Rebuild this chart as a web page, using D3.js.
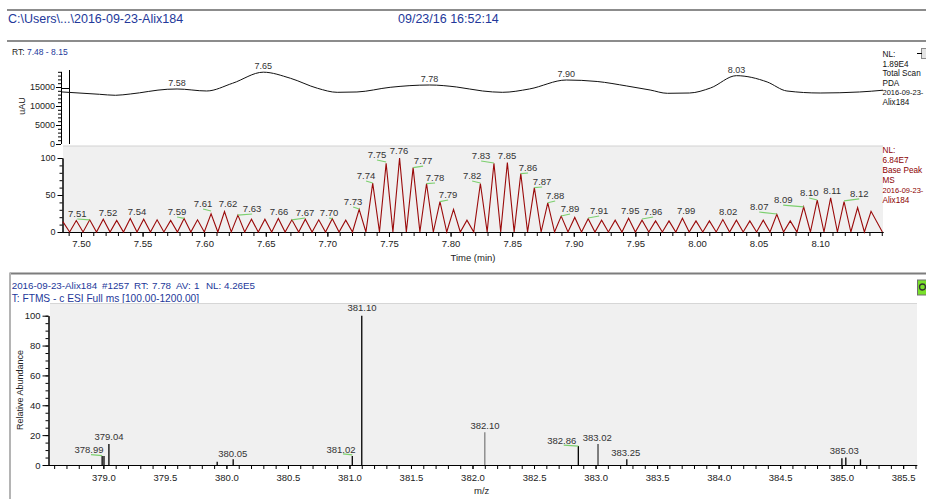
<!DOCTYPE html>
<html><head><meta charset="utf-8">
<script src="https://cdn.jsdelivr.net/npm/d3@7"></script>
<style>
body{margin:0;background:#fff;}
svg{display:block;font-family:"Liberation Sans",Arial,sans-serif;}
</style>
</head><body>
<svg id="c" width="926" height="499"></svg>
<script>
// ---------------- DATA ----------------
// Top trace: Total Scan PDA (uAU)
const topTimes  = [7.4846,7.515,7.528,7.540,7.570,7.578,7.602,7.623,7.648,7.670,7.692,7.708,7.724,7.751,7.783,7.805,7.826,7.842,7.864,7.894,7.919,7.943,7.962,7.976,7.994,8.011,8.032,8.057,8.073,8.100,8.132,8.151];
const topValues = [13700,13080,12820,13160,14400,14480,13950,15980,18900,17300,14660,13600,13690,14920,15530,15000,13950,13600,14480,16840,16450,15270,14210,13340,13420,14740,17980,16320,13950,13420,13690,14150];
const topLabelTexts  = ["7.58","7.65","7.78","7.90","8.03"];
const topLabelTimes  = [7.578,7.648,7.783,7.894,8.032];
const topLabelValues = [14480,18900,15530,16840,17980];

// Middle trace: Base Peak MS (relative %), alternating scans
const peakTimes = [7.4853,7.4962,7.5071,7.5181,7.5290,7.5400,7.5509,7.5618,7.5728,7.5837,7.5946,7.6056,7.6165,7.6274,7.6384,7.6493,7.6602,7.6712,7.6821,7.6930,7.7040,7.7149,7.7258,7.7368,7.7477,7.7586,7.7696,7.7805,7.7914,7.8024,7.8133,7.8242,7.8352,7.8461,7.8570,7.8680,7.8789,7.8898,7.9008,7.9117,7.9226,7.9336,7.9445,7.9554,7.9664,7.9773,7.9882,7.9992,8.0101,8.0210,8.0320,8.0429,8.0538,8.0648,8.0757,8.0866,8.0976,8.1085,8.1194,8.1304,8.1413];
const peakValues = [14,15.5,16.5,17.4,15.6,18.3,17.4,16.5,15.6,18.3,16.5,24.6,27.7,22.8,17.4,17.4,18.3,16.5,17.4,16.5,18,16,30.5,66,93,100,87,65.5,41,30.5,16,65.5,93,94,79,60,39.5,21.5,19.7,18,16,16,18.6,16,15,15,18.6,15,15,16.8,16,15,16,24,15,34,43,46,41,33,28];
const valleyTimes = [7.4908,7.5017,7.5126,7.5236,7.5345,7.5455,7.5564,7.5673,7.5783,7.5892,7.6001,7.6111,7.6220,7.6329,7.6439,7.6548,7.6657,7.6767,7.6876,7.6985,7.7095,7.7204,7.7313,7.7423,7.7532,7.7641,7.7751,7.7860,7.7969,7.8079,7.8188,7.8297,7.8407,7.8516,7.8625,7.8735,7.8844,7.8953,7.9063,7.9172,7.9281,7.9391,7.9500,7.9609,7.9719,7.9828,7.9937,8.0047,8.0156,8.0265,8.0375,8.0484,8.0593,8.0703,8.0812,8.0921,8.1031,8.1140,8.1249,8.1359,8.1505];
const valleyValues = [0,0,0,0,0,0,0,0,0,0,0,0,0,0,0,0,0,0,0,0,0,0,0,0,0,0,0,0,0,0,0,0,0,0,0,0,0,0,0,0,0,0,0,0,0,0,0,0,0,0,0,0,0,0,0,0,0,0,0,0,0];
const midLabelTexts = ["7.51","7.52","7.54","7.59","7.61","7.62","7.63","7.66","7.67","7.70","7.73","7.74","7.75","7.76","7.77","7.78","7.79","7.82","7.83","7.85","7.86","7.87","7.88","7.89","7.91","7.95","7.96","7.99","8.02","8.07","8.09","8.10","8.11","8.12"];
const midLabelTimes = [7.4970,7.5220,7.5455,7.5780,7.5991,7.6194,7.6389,7.6608,7.6819,7.7014,7.7209,7.7314,7.7403,7.7582,7.7777,7.7874,7.7980,7.8175,7.8248,7.8459,7.8629,7.8743,7.8849,7.8970,7.9206,7.9458,7.9644,7.9912,8.0253,8.0505,8.0700,8.0911,8.1098,8.1317];
const midLabelPct   = [24.3,25.7,27.0,27.0,37.8,37.8,31.1,27.0,25.7,25.7,40.5,75.7,104.1,109.5,95.9,73.0,50.0,75.7,102.7,102.7,86.5,67.6,48.6,31.1,28.4,28.4,27.0,28.4,27.0,33.8,43.2,52.7,55.4,51.4];
const midLabelPeak  = [2,-1,-1,9,11,-1,13,-1,17,20,22,23,24,-1,26,27,28,31,32,-1,34,35,36,37,39,-1,43,-1,-1,53,55,56,-1,58];

// Bottom: mass spectrum
const msMz  = [378.99,379.005,379.045,379.925,380.055,381.023,381.10,382.10,382.86,383.02,383.254,385.002,385.034,385.153];
const msInt = [6,6,14,2.2,3.8,6,100,21.9,12.7,14,3.8,4.5,5.1,3.8];
const msColor = ["#000","#000","#000","#000","#000","#000","#000","#808080","#000","#404040","#000","#000","#000","#000"];
const msLabelTexts = ["378.99","379.04","380.05","381.02","381.10","382.10","382.86","383.02","383.25","385.03"];
const msLabelMz    = [378.883,379.046,380.051,380.931,381.102,382.102,382.725,383.014,383.245,385.022];
const msLabelPct   = [10.0,18.8,7.8,10.5,105.2,26.1,16.3,18.6,8.2,9.6];
const msLabelStick = [0,-1,-1,5,-1,-1,8,-1,-1,-1];

// Axis ticks
const timeTickValues = [7.50,7.55,7.60,7.65,7.70,7.75,7.80,7.85,7.90,7.95,8.00,8.05,8.10];
const timeTickLabels = ["7.50","7.55","7.60","7.65","7.70","7.75","7.80","7.85","7.90","7.95","8.00","8.05","8.10"];
const msTickValues = [379.0,379.5,380.0,380.5,381.0,381.5,382.0,382.5,383.0,383.5,384.0,384.5,385.0,385.5];
const msTickLabels = ["379.0","379.5","380.0","380.5","381.0","381.5","382.0","382.5","383.0","383.5","384.0","384.5","385.0","385.5"];
const topYTicks = [0,5000,10000,15000];
const midYTicks = [0,50,100];
const msYTicks = [0,20,40,60,80,100];

// ---------------- DRAW ----------------
const svg = d3.select("#c");
const F = '"Liberation Sans",Arial,sans-serif';
const blue = "#23389a";
const txt = (x,y,s,opt={}) => svg.append("text").attr("x",x).attr("y",y).text(s)
   .attr("font-size",opt.size||9).attr("fill",opt.fill||"#222")
   .attr("text-anchor",opt.anchor||"start").attr("dy",opt.dy||"0.35em");

// header separators
svg.append("rect").attr("x",7).attr("y",9).attr("width",919).attr("height",2).attr("fill","#8c8c8c");
svg.append("rect").attr("x",7).attr("y",40).attr("width",919).attr("height",2).attr("fill","#8c8c8c");
txt(8,18.5,"C:\\Users\\...\\2016-09-23-Alix184",{size:12.5,fill:blue});
txt(398,18.5,"09/23/16 16:52:14",{size:12.5,fill:blue});
const rt = svg.append("text").attr("x",12).attr("y",52.5).attr("dy","0.35em").attr("font-size",8.5);
rt.append("tspan").text("RT: ").attr("fill","#222");
rt.append("tspan").text("7.48 - 8.15").attr("fill",blue);

// scales
const xT = d3.scaleLinear().domain([7.4846, 8.151]).range([62, 883]);
const yTop = d3.scaleLinear().domain([0, 15000]).range([144, 87]);
const yMid = d3.scaleLinear().domain([0, 100]).range([232, 158]);
const xMS = d3.scaleLinear().domain([378.55, 385.61]).range([48, 916.7]);
const yMS = d3.scaleLinear().domain([0, 100]).range([465, 315.7]);

function styleAxis(g, size){
  g.selectAll("text").attr("font-family",F).attr("font-size",size).attr("fill","#222");
  g.selectAll("line,path").attr("stroke","#000");
}

// ---- top panel ----
const gTopY = svg.append("g").attr("transform","translate(61,0)")
  .call(d3.axisLeft(yTop).tickValues(topYTicks).tickSize(5).tickPadding(1).tickFormat(d3.format("d")).tickSizeOuter(0));
styleAxis(gTopY,9);
gTopY.select(".domain").remove();
svg.append("line").attr("x1",61.5).attr("x2",61.5).attr("y1",yTop(19000)).attr("y2",144).attr("stroke","#000");
svg.append("g").attr("transform","translate(61,0)")
  .call(d3.axisLeft(yTop).tickValues(d3.range(0,19001,1000)).tickSize(3).tickFormat("")).call(g=>{g.select(".domain").remove();g.selectAll("line").attr("stroke","#000");});
svg.append("text").attr("transform","translate(22,106) rotate(-90)").attr("text-anchor","middle").attr("dy","0.35em")
  .attr("font-size",9).attr("fill","#222").text("uAU");
// crosshair
svg.append("line").attr("x1",69.5).attr("x2",69.5).attr("y1",70).attr("y2",144).attr("stroke","#000");
svg.append("line").attr("x1",61).attr("x2",70).attr("y1",88.5).attr("y2",88.5).attr("stroke","#000");

const topLine = d3.line().x((d,i)=>xT(topTimes[i])).y(d=>yTop(d)).curve(d3.curveMonotoneX);
svg.append("path").attr("d",topLine(topValues)).attr("fill","none").attr("stroke","#111").attr("stroke-width",1);
topLabelTexts.forEach((t,i)=>{
  svg.append("text").attr("x",xT(topLabelTimes[i])).attr("y",yTop(topLabelValues[i])-3)
    .attr("text-anchor","middle").attr("font-size",9).attr("fill","#333").text(t);
});
function sideNote(lines, y0, step, color){
  lines.forEach((s,i)=>{
    const long = s.length>=10 && /\d/.test(s);
    txt(882.5,y0+i*step,s,{size: long?7.5:8.2, fill:color});
  });
}
sideNote(["NL:","1.89E4","Total Scan","PDA","2016-09-23-","Alix184"],54,9.7,"#111");
// small icon top-right
svg.append("rect").attr("x",921.5).attr("y",48.5).attr("width",8).attr("height",10).attr("fill","#e4e4e4").attr("stroke","#8a8a8a");
svg.append("line").attr("x1",917).attr("x2",922).attr("y1",53.5).attr("y2",53.5).attr("stroke","#000");

// ---- middle panel ----
svg.append("rect").attr("x",63).attr("y",146).attr("width",820).attr("height",86).attr("fill","#f0f0f0");
svg.append("line").attr("x1",63).attr("x2",883).attr("y1",146).attr("y2",146).attr("stroke","#d2d2d2");
const gMidX = svg.append("g").attr("transform","translate(0,232)")
  .call(d3.axisBottom(xT).tickValues(timeTickValues).tickSize(5).tickPadding(3).tickSizeOuter(0).tickFormat((d,i)=>timeTickLabels[i]));
styleAxis(gMidX,9.5);
svg.append("g").attr("transform","translate(0,232)")
  .call(d3.axisBottom(xT).tickValues(d3.range(749,816).map(v=>v/100)).tickSize(4).tickFormat("").tickSizeOuter(0))
  .call(g=>{g.selectAll("line,path").attr("stroke","#000");});
const gMidY = svg.append("g").attr("transform","translate(62.5,0)")
  .call(d3.axisLeft(yMid).tickValues(midYTicks).tickSize(5).tickPadding(2).tickSizeOuter(0));
styleAxis(gMidY,9);
svg.append("g").attr("transform","translate(62.5,0)")
  .call(d3.axisLeft(yMid).tickValues(d3.range(0,101,10)).tickSize(3).tickFormat("").tickSizeOuter(0))
  .call(g=>{g.selectAll("line,path").attr("stroke","#000");});
txt(473,257.5,"Time (min)",{size:9.5,anchor:"middle"});

// zigzag trace from peaks and valleys
const scans = [];
peakTimes.forEach((t,i)=>{ scans.push([t,peakValues[i]]); scans.push([valleyTimes[i],valleyValues[i]]); });
const midLine = d3.line().x(d=>xT(d[0])).y(d=>yMid(d[1]));
svg.append("path").attr("d",midLine(scans)).attr("fill","none").attr("stroke","#9a0a0a").attr("stroke-width",1.1);
midLabelTexts.forEach((t,i)=>{
  const lx = xT(midLabelTimes[i]), ly = yMid(midLabelPct[i]);
  const p = midLabelPeak[i];
  if(p>=0){
    svg.append("line").attr("x1",lx).attr("y1",ly+5).attr("x2",xT(peakTimes[p])).attr("y2",Math.min(yMid(peakValues[p]),ly+7))
      .attr("stroke","#7ccf6e").attr("stroke-width",1.2);
  }
  txt(lx,ly,t,{size:9.5,anchor:"middle",fill:"#333"});
});
sideNote(["NL:","6.84E7","Base Peak","MS","2016-09-23-","Alix184"],150,10,"#8b0000");

// ---- bottom panel ----
svg.append("rect").attr("x",10).attr("y",272.5).attr("width",916).attr("height",2).attr("fill","#7d7d7d");
svg.append("rect").attr("x",9).attr("y",272.5).attr("width",2).attr("height",227).attr("fill","#b4b4b4");
const h1 = svg.append("text").attr("y",285.7).attr("dy","0.35em").attr("font-size",9.8).attr("fill",blue);
[["2016-09-23-Alix184",11.7],["#1257",102],["RT:",134],["7.78",152],["AV:",176],["1",194],["NL:",206],["4.26E5",224]]
  .forEach(([s,x])=>h1.append("tspan").attr("x",x).text(s));
txt(11.7,298.3,"T: FTMS - c ESI Full ms [100.00-1200.00]",{size:10.2,fill:blue});
// green icon
svg.append("rect").attr("x",917.5).attr("y",280).attr("width",9).attr("height",15).attr("fill","#79e02a").attr("stroke","#707070");
svg.append("circle").attr("cx",922.5).attr("cy",287).attr("r",3).attr("fill","none").attr("stroke","#333").attr("stroke-width",1.3);

svg.append("rect").attr("x",50).attr("y",303.5).attr("width",867).attr("height",161.5).attr("fill","#f0f0f0");
svg.append("line").attr("x1",50).attr("x2",917).attr("y1",303.5).attr("y2",303.5).attr("stroke","#d6d6d6");
const gMsX = svg.append("g").attr("transform","translate(0,465)")
  .call(d3.axisBottom(xMS).tickValues(msTickValues).tickSize(4).tickPadding(5).tickSizeOuter(0).tickFormat((d,i)=>msTickLabels[i]));
styleAxis(gMsX,9.5);
svg.append("g").attr("transform","translate(0,465)")
  .call(d3.axisBottom(xMS).tickValues(d3.range(3786,3857).map(v=>v/10)).tickSize(4).tickFormat("").tickSizeOuter(0))
  .call(g=>{g.selectAll("line,path").attr("stroke","#000");});
const gMsY = svg.append("g").attr("transform","translate(48.5,0)")
  .call(d3.axisLeft(yMS).tickValues(msYTicks).tickSize(6).tickPadding(2).tickSizeOuter(0));
styleAxis(gMsY,9.5);
svg.append("g").attr("transform","translate(48.5,0)")
  .call(d3.axisLeft(yMS).tickValues(d3.range(0,101,5)).tickSize(3).tickFormat("").tickSizeOuter(0))
  .call(g=>{g.selectAll("line,path").attr("stroke","#000");});
svg.append("text").attr("transform","translate(20,390) rotate(-90)").attr("text-anchor","middle").attr("dy","0.35em")
  .attr("font-size",9).attr("fill","#222").text("Relative Abundance");
txt(481.7,490.7,"m/z",{size:9.5,anchor:"middle"});

svg.selectAll(".stick").data(msMz).enter().append("line").attr("class","stick")
  .attr("x1",d=>xMS(d)).attr("x2",d=>xMS(d)).attr("y1",yMS(0)).attr("y2",(d,i)=>yMS(msInt[i]))
  .attr("stroke",(d,i)=>msColor[i]).attr("stroke-width",1.3);
msLabelTexts.forEach((t,i)=>{
  const lx = xMS(msLabelMz[i]), ly = yMS(msLabelPct[i]);
  const s = msLabelStick[i];
  if(s>=0){
    svg.append("line").attr("x1",lx+2).attr("y1",ly+4.5).attr("x2",xMS(msMz[s])).attr("y2",ly+5.5)
      .attr("stroke","#7ccf6e").attr("stroke-width",1.2);
  }
  txt(lx,ly,t,{size:9.5,anchor:"middle",fill:"#333"});
});
</script>
</body></html>
